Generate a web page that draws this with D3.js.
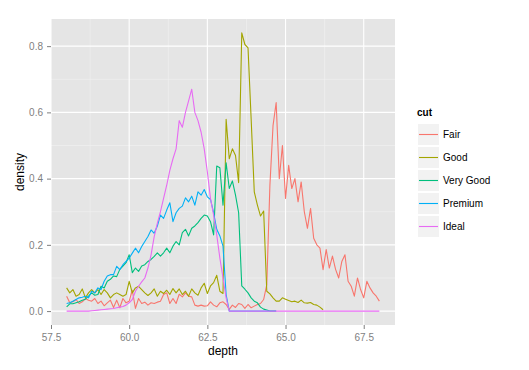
<html>
  <head>
    <title>depth density by cut</title>
    <script src="https://d3js.org/d3.v7.min.js"></script>
    <style>
      body { margin: 0; background: #ffffff; }
      text { font-family: "Liberation Sans", Arial, sans-serif; }
    </style>
  </head>
  <body>
    <script>
      const w = 529;
      const h = 370;
      const panel = { left: 51, right: 395, top: 19, bottom: 325 };

      const cuts = ["Fair", "Good", "Very Good", "Premium", "Ideal"];
      const colors = ["#F8766D", "#A3A500", "#00BF7D", "#00B0F6", "#E76BF3"];
      const xTicks = [57.5, 60.0, 62.5, 65.0, 67.5];
      const yTicks = [0.0, 0.2, 0.4, 0.6, 0.8];

      // bin centres, 0.1 apart
      const depth = [
        58.0, 58.1, 58.2, 58.3, 58.4, 58.5, 58.6, 58.7, 58.8, 58.9,
        59.0, 59.1, 59.2, 59.3, 59.4, 59.5, 59.6, 59.7, 59.8, 59.9,
        60.0, 60.1, 60.2, 60.3, 60.4, 60.5, 60.6, 60.7, 60.8, 60.9,
        61.0, 61.1, 61.2, 61.3, 61.4, 61.5, 61.6, 61.7, 61.8, 61.9,
        62.0, 62.1, 62.2, 62.3, 62.4, 62.5, 62.6, 62.7, 62.8, 62.9,
        63.0, 63.1, 63.2, 63.3, 63.4, 63.5, 63.6, 63.7, 63.8, 63.9,
        64.0, 64.1, 64.2, 64.3, 64.4, 64.5, 64.6, 64.7, 64.8, 64.9,
        65.0, 65.1, 65.2, 65.3, 65.4, 65.5, 65.6, 65.7, 65.8, 65.9,
        66.0, 66.1, 66.2, 66.3, 66.4, 66.5, 66.6, 66.7, 66.8, 66.9,
        67.0, 67.1, 67.2, 67.3, 67.4, 67.5, 67.6, 67.7, 67.8, 67.9,
        68.0
      ];

      const fair = [
        0.045, 0.025, 0.028, 0.035, 0.023, 0.028, 0.038, 0.033, 0.030, 0.038,
        0.023, 0.030, 0.016, 0.025, 0.033, 0.011, 0.033, 0.010, 0.038, 0.025,
        0.030, 0.063, 0.008, 0.038, 0.023, 0.027, 0.018, 0.025, 0.023, 0.027,
        0.030, 0.050, 0.055, 0.023, 0.038, 0.023, 0.051, 0.043, 0.055, 0.045,
        0.043, 0.018, 0.015, 0.018, 0.015, 0.016, 0.028, 0.018, 0.013, 0.025,
        0.028, 0.020, 0.005, 0.018, 0.011, 0.023, 0.020, 0.008, 0.020, 0.010,
        0.015, 0.020, 0.023, 0.035, 0.080, 0.380, 0.560, 0.630, 0.400, 0.500,
        0.340, 0.440, 0.370, 0.400, 0.330, 0.390, 0.300, 0.250, 0.310, 0.220,
        0.200, 0.190, 0.125, 0.186, 0.130, 0.166, 0.126, 0.100, 0.150, 0.170,
        0.090, 0.075, 0.045, 0.100, 0.065, 0.040, 0.090, 0.070, 0.055, 0.045,
        0.030
      ];

      const good = [
        0.070, 0.055, 0.065, 0.045, 0.050, 0.067, 0.040, 0.055, 0.065, 0.055,
        0.065, 0.050, 0.065, 0.055, 0.040, 0.050, 0.055, 0.050, 0.045, 0.050,
        0.090, 0.055, 0.070, 0.075, 0.065, 0.055, 0.047, 0.055, 0.067, 0.045,
        0.060, 0.053, 0.063, 0.050, 0.068, 0.055, 0.067, 0.050, 0.060, 0.045,
        0.067, 0.055, 0.048, 0.070, 0.084, 0.053, 0.076, 0.086, 0.108, 0.060,
        0.053, 0.579, 0.460, 0.490, 0.470, 0.388, 0.840, 0.805, 0.795, 0.580,
        0.360, 0.320, 0.287, 0.302, 0.060, 0.052, 0.040, 0.030, 0.030, 0.040,
        0.036, 0.032, 0.028, 0.030, 0.026, 0.033, 0.025, 0.024, 0.026, 0.020,
        0.018, 0.012, 0.004
      ];

      const veryGood = [
        0.013, 0.022, 0.022, 0.025, 0.028, 0.033, 0.036, 0.045, 0.055, 0.048,
        0.050, 0.075, 0.070, 0.090, 0.096, 0.106, 0.104, 0.126, 0.136, 0.146,
        0.170, 0.116, 0.130, 0.120, 0.136, 0.140, 0.150, 0.156, 0.165, 0.176,
        0.166, 0.176, 0.190, 0.176, 0.196, 0.210, 0.200, 0.237, 0.247, 0.227,
        0.250, 0.257, 0.267, 0.280, 0.290, 0.287, 0.270, 0.230, 0.438, 0.433,
        0.320, 0.448, 0.370, 0.393, 0.350, 0.297, 0.076, 0.066, 0.055, 0.040,
        0.030, 0.025, 0.012, 0.006, 0.003, 0.000, 0.000, 0.000
      ];

      const premium = [
        0.023, 0.025, 0.030, 0.035, 0.040, 0.042, 0.045, 0.040, 0.060, 0.055,
        0.070, 0.065, 0.090, 0.106, 0.110, 0.110, 0.135, 0.125, 0.140, 0.150,
        0.160, 0.175, 0.190, 0.176, 0.195, 0.210, 0.225, 0.245, 0.235, 0.257,
        0.290, 0.280, 0.305, 0.327, 0.270, 0.297, 0.310, 0.317, 0.342, 0.330,
        0.347, 0.320, 0.360, 0.350, 0.367, 0.345, 0.337, 0.297, 0.247, 0.227,
        0.196, 0.050, 0.000, 0.000, 0.000, 0.000, 0.000, 0.000, 0.000, 0.000,
        0.000, 0.000, 0.000, 0.000, 0.000, 0.000, 0.000, 0.000
      ];

      const ideal = [
        0.000, 0.000, 0.000, 0.000, 0.000, 0.000, 0.000, 0.000, 0.001, 0.002,
        0.003, 0.004, 0.005, 0.006, 0.007, 0.008, 0.010, 0.012, 0.014, 0.018,
        0.025, 0.035, 0.060, 0.075, 0.088, 0.100, 0.130, 0.170, 0.225, 0.265,
        0.300, 0.340, 0.380, 0.425, 0.460, 0.490, 0.575, 0.555, 0.600, 0.635,
        0.670, 0.600, 0.575, 0.540, 0.490, 0.420, 0.340, 0.290, 0.230, 0.160,
        0.100, 0.040, 0.000, 0.000, 0.000, 0.000, 0.000, 0.000, 0.000, 0.000,
        0.000, 0.000, 0.000, 0.000, 0.000, 0.000, 0.000, 0.000, 0.000, 0.000,
        0.000, 0.000, 0.000, 0.000, 0.000, 0.000, 0.000, 0.000, 0.000, 0.000,
        0.000, 0.000, 0.000, 0.000, 0.000, 0.000, 0.000, 0.000, 0.000, 0.000,
        0.000, 0.000, 0.000, 0.000, 0.000, 0.000, 0.000, 0.000, 0.000, 0.000,
        0.000
      ];

      const series = [fair, good, veryGood, premium, ideal];

      // ggplot style 5% expansion
      const xExt = d3.extent(depth);
      const xPad = (xExt[1] - xExt[0]) * 0.05;
      const yMax = d3.max(series, (s) => d3.max(s));
      const yPad = yMax * 0.05;

      const xScale = d3
        .scaleLinear()
        .domain([xExt[0] - xPad, xExt[1] + xPad])
        .range([panel.left, panel.right]);

      const yScale = d3
        .scaleLinear()
        .domain([0 - yPad, yMax + yPad])
        .range([panel.bottom, panel.top]);

      const xMinor = d3.pairs(xTicks, (a, b) => (a + b) / 2);
      const yMinor = d3.pairs(yTicks, (a, b) => (a + b) / 2);

      const svg = d3
        .select("body")
        .append("svg")
        .attr("width", w)
        .attr("height", h);

      svg.append("rect").attr("width", w).attr("height", h).attr("fill", "#ffffff");

      svg
        .append("rect")
        .attr("x", panel.left)
        .attr("y", panel.top)
        .attr("width", panel.right - panel.left)
        .attr("height", panel.bottom - panel.top)
        .attr("fill", "#E5E5E5");

      const grid = svg.append("g");
      grid
        .selectAll(".xminor")
        .data(xMinor)
        .join("line")
        .attr("x1", (d) => xScale(d))
        .attr("x2", (d) => xScale(d))
        .attr("y1", panel.top)
        .attr("y2", panel.bottom)
        .attr("stroke", "#F2F2F2")
        .attr("stroke-width", 0.6);
      grid
        .selectAll(".yminor")
        .data(yMinor)
        .join("line")
        .attr("x1", panel.left)
        .attr("x2", panel.right)
        .attr("y1", (d) => yScale(d))
        .attr("y2", (d) => yScale(d))
        .attr("stroke", "#F2F2F2")
        .attr("stroke-width", 0.6);
      grid
        .selectAll(".xmajor")
        .data(xTicks)
        .join("line")
        .attr("x1", (d) => xScale(d))
        .attr("x2", (d) => xScale(d))
        .attr("y1", panel.top)
        .attr("y2", panel.bottom)
        .attr("stroke", "#ffffff")
        .attr("stroke-width", 1.1);
      grid
        .selectAll(".ymajor")
        .data(yTicks)
        .join("line")
        .attr("x1", panel.left)
        .attr("x2", panel.right)
        .attr("y1", (d) => yScale(d))
        .attr("y2", (d) => yScale(d))
        .attr("stroke", "#ffffff")
        .attr("stroke-width", 1.1);

      const line = d3
        .line()
        .x((d, i) => xScale(depth[i]))
        .y((d) => yScale(d));

      svg
        .append("g")
        .selectAll("path")
        .data(series)
        .join("path")
        .attr("d", (d) => line(d))
        .attr("fill", "none")
        .attr("stroke", (d, i) => colors[i])
        .attr("stroke-width", 1.1)
        .attr("stroke-linejoin", "round");

      const xAxis = d3
        .axisBottom(xScale)
        .tickValues(xTicks)
        .tickFormat(d3.format(".1f"))
        .tickSize(4)
        .tickPadding(5);
      const yAxis = d3
        .axisLeft(yScale)
        .tickValues(yTicks)
        .tickFormat(d3.format(".1f"))
        .tickSize(4)
        .tickPadding(4);

      const gx = svg
        .append("g")
        .attr("transform", "translate(0," + panel.bottom + ")")
        .call(xAxis);
      const gy = svg
        .append("g")
        .attr("transform", "translate(" + panel.left + ",0)")
        .call(yAxis);

      [gx, gy].forEach((g) => {
        g.select(".domain").remove();
        g.selectAll(".tick line").attr("stroke", "#7F7F7F");
        g.selectAll(".tick text")
          .attr("fill", "#7F7F7F")
          .style("font-size", "10px")
          .style("font-family", '"Liberation Sans", Arial, sans-serif');
      });

      svg
        .append("text")
        .attr("x", (panel.left + panel.right) / 2)
        .attr("y", 355)
        .attr("text-anchor", "middle")
        .style("font-size", "12px")
        .text("depth");

      svg
        .append("text")
        .attr("transform", "translate(24," + (panel.top + panel.bottom) / 2 + ") rotate(-90)")
        .attr("text-anchor", "middle")
        .style("font-size", "12px")
        .text("density");

      // legend
      const legend = svg.append("g").attr("transform", "translate(417,0)");
      legend
        .append("text")
        .attr("x", 0)
        .attr("y", 116)
        .style("font-size", "10px")
        .style("font-weight", "bold")
        .text("cut");

      const keys = legend
        .selectAll(".key")
        .data(cuts)
        .join("g")
        .attr("transform", (d, i) => "translate(0," + (123 + i * 23) + ")");
      keys
        .append("rect")
        .attr("x", 0.5)
        .attr("y", 0.5)
        .attr("width", 22)
        .attr("height", 22)
        .attr("fill", "#F2F2F2")
        .attr("stroke", "#ffffff")
        .attr("stroke-width", 1);
      keys
        .append("line")
        .attr("x1", 2)
        .attr("x2", 21)
        .attr("y1", 11.5)
        .attr("y2", 11.5)
        .attr("stroke", (d, i) => colors[i])
        .attr("stroke-width", 1.1);
      keys
        .append("text")
        .attr("x", 26)
        .attr("y", 11.5)
        .attr("dy", "0.35em")
        .style("font-size", "10px")
        .text((d) => d);
    </script>
  </body>
</html>
